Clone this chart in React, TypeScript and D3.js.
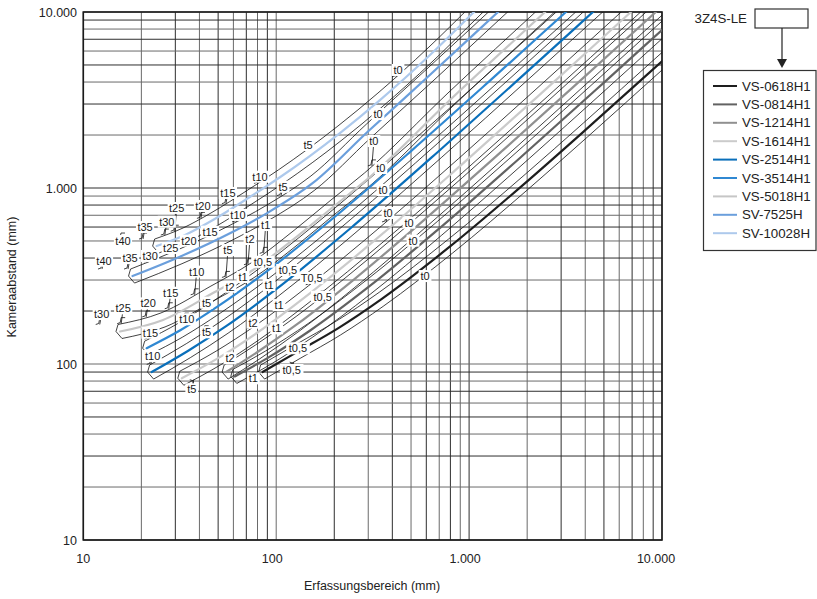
import React from "react";
import * as d3 from "d3";

const W = 817;
const H = 599;

const xTickValues = [10, 100, 1000, 10000];
const xTickLabels = ["10", "100", "1.000", "10.000"];
const yTickValues = [10, 100, 1000, 10000];
const yTickLabels = ["10", "100", "1.000", "10.000"];

const lensNames = ["VS-0618H1", "VS-0814H1", "VS-1214H1", "VS-1614H1", "VS-2514H1", "VS-3514H1", "VS-5018H1", "SV-7525H", "SV-10028H"];
const lensColors = ["#1e1e1e", "#626262", "#909090", "#cbcbcb", "#0a6fba", "#3088d2", "#c6c6c6", "#6b9fdc", "#adc9ec"];

// [Erfassungsbereich (mm), Kameraabstand (mm)]
const vs0618 = [[85, 90], [130, 118], [210, 160], [350, 233], [800, 467], [2000, 1091], [4000, 2131], [10000, 5251]];
const vs0814 = [[61, 85], [90, 108], [150, 155], [300, 273], [700, 588], [2000, 1611], [5000, 3972], [10000, 7907]];
const vs1214 = [[55, 90], [80, 117], [130, 170], [250, 299], [600, 675], [1500, 1640], [4000, 4323], [9290, 10000]];
const vs1614 = [[32.4, 83], [50, 108], [80, 151], [150, 253], [350, 541], [900, 1336], [2500, 3646], [6900, 10000]];
const vs2514 = [[22.6, 90], [35, 119], [55, 164], [100, 266], [250, 607], [700, 1629], [2000, 4583], [4385, 10000]];
const vs3514 = [[21.3, 123], [32, 156], [50, 213], [90, 338], [200, 682], [500, 1621], [1300, 4125], [3177, 10000]];
const vs5018 = [[15.5, 153], [25.9, 178], [47, 253], [75.8, 342], [128, 529], [197, 780], [294, 1111], [796, 3162], [2475, 10000]];
const sv7525 = [[18, 316], [31.7, 407], [57.6, 553], [89.3, 718], [155, 1068], [300, 2100], [600, 4200], [1412, 10000]];
const sv10028 = [[24, 468], [33.7, 541], [47, 658], [73, 889], [105, 1155], [214, 2053], [345, 3160], [627, 5700], [1060, 10000]];

// tube labels: [text, Erfassungsbereich, Kameraabstand]
const lab0618 = [["t0,5", 120.3, 92.5], ["t0", 591, 316]];
const lab0814 = [["t1", 76.1, 82.9], ["t0,5", 129.7, 122.8], ["t0", 512, 502]];
const lab1214 = [["t2", 57.6, 107.8], ["t1", 100.6, 159.5], ["t0,5", 174.2, 241], ["t0", 488, 635]];
const lab1614 = [["t5", 36.5, 71.8], ["t2", 75.8, 171.7], ["t1", 103.4, 216], ["T0,5", 152.8, 308], ["t0", 380, 721]];
const lab2514 = [["t10", 22.9, 111.1], ["t5", 43.6, 151.4], ["t1", 91.8, 281], ["t0,5", 115.1, 342], ["t0", 358, 974]];
const lab3514 = [["t15", 22.3, 150.6], ["t10", 34.4, 179.5], ["t5", 43.6, 223], ["t2", 57.6, 275], ["t1", 67.3, 312], ["t0,5", 85.4, 381], ["t0", 349, 1299]];
const lab5018 = [["t30", 12.46, 192], ["t25", 16.1, 207], ["t20", 21.7, 221], ["t15", 28.4, 254], ["t10", 38.7, 335], ["t5", 56.2, 444], ["t2", 73.1, 513], ["t1", 88.2, 616], ["t0", 321, 1849]];
const lab7525 = [["t40", 12.8, 386], ["t35", 17.47, 400], ["t30", 22.2, 411], ["t25", 28.4, 456], ["t20", 35.3, 502], ["t15", 45.4, 565], ["t10", 63.4, 703], ["t5", 108.5, 1017], ["t0", 337, 2633]];
const lab10028 = [["t40", 16.06, 500], ["t35", 20.9, 600], ["t30", 27.1, 643], ["t25", 30.5, 770], ["t20", 41.7, 790], ["t15", 56.2, 937], ["t10", 82.4, 1159], ["t5", 146.2, 1755], ["t0", 428, 4683]];

const curves = [vs0618, vs0814, vs1214, vs1614, vs2514, vs3514, vs5018, sv7525, sv10028];
const labels = [lab0618, lab0814, lab1214, lab1614, lab2514, lab3514, lab5018, lab7525, lab10028];

const x = d3.scaleLog().domain([10, 10000]).range([83.3, 662]);
const y = d3.scaleLog().domain([10, 10000]).range([540, 12]);

const FONT = "'Liberation Sans', Arial, sans-serif";
const NARROW = "'Liberation Sans Narrow', 'Arial Narrow', 'Liberation Sans', Arial, sans-serif";

function gridValues() {
  const v: number[] = [];
  [10, 100, 1000].forEach((d) => {
    for (let k = 1; k <= 9; k++) v.push(k * d);
  });
  v.push(10000);
  return v;
}

function curveInterp(pts: number[][]) {
  const s = d3
    .scaleLinear()
    .domain(pts.map((p) => Math.log10(p[0])))
    .range(pts.map((p) => Math.log10(p[1])))
    .clamp(true);
  return (f: number) => Math.pow(10, s(Math.log10(f)));
}

export default function App() {
  const gv = gridValues();
  const line = d3.line().curve(d3.curveMonotoneX);
  const OFF = 7;

  const lensEls = curves.map((pts, i) => {
    const px = pts.map((p) => [x(p[0]), y(p[1])] as [number, number]);
    const n = px.length;
    const a = px[n - 2];
    const b = px[n - 1];
    const dx = b[0] - a[0];
    const dy = b[1] - a[1];
    const L = Math.hypot(dx, dy);
    const ext = [...px, [b[0] + (dx / L) * 40, b[1] + (dy / L) * 40] as [number, number]];
    const d = line(ext) || "";
    const interp = curveInterp(pts);
    const start = px[0];
    const labs = labels[i].map((l, j) => {
      const [t, f, dist] = l as [string, number, number];
      const lx = x(f);
      const ly = y(dist);
      const cy = y(interp(f));
      const above = ly < cy;
      const tx = above ? lx - 2 : lx + 2;
      const ty = above ? cy - OFF : cy + OFF;
      const w = t.length * 5.4 + 2;
      const dl = Math.hypot(tx - lx, ty - ly);
      const notch = above
        ? `M${tx - 4},${ty} L${tx - 1},${ty - 1} L${tx},${ty - 6} L${tx + 4},${ty - 6}`
        : `M${tx - 4},${ty} L${tx - 1},${ty + 1} L${tx},${ty + 6} L${tx + 4},${ty + 6}`;
      return { t, lx, ly, tx, ty, w, dl, notch, key: `${i}-${j}` };
    });
    return { d, start, labs, color: lensColors[i], i };
  });

  return (
    <svg
      width={W}
      height={H}
      style={{ position: "absolute", left: 0, top: 0, background: "#fff" }}
      xmlns="http://www.w3.org/2000/svg"
    >
      <defs>
        <clipPath id="plot">
          <rect x={83.3} y={12} width={662 - 83.3} height={540 - 12} />
        </clipPath>
      </defs>
      <rect x={0} y={0} width={W} height={H} fill="#fff" />
      {/* grid */}
      <g strokeWidth={1}>
        {gv.map((v, i) => (
          <line key={"gx" + i} x1={x(v)} x2={x(v)} y1={12} y2={540} stroke={i % 2 ? "#6a6a6a" : "#2e2e2e"} />
        ))}
        {gv.map((v, i) => (
          <line key={"gy" + i} y1={y(v)} y2={y(v)} x1={83.3} x2={662} stroke={i % 2 ? "#6a6a6a" : "#2e2e2e"} />
        ))}
      </g>
      <rect x={83.3} y={12} width={662 - 83.3} height={540 - 12} fill="none" stroke="#1a1a1a" strokeWidth={1.6} />

      {/* thin tube boundary lines */}
      <g clipPath="url(#plot)" fill="none" stroke="#111" strokeWidth={0.8}>
        {lensEls.map((le) => (
          <g key={"thin" + le.i}>
            <path d={le.d} transform={`translate(-2,${-OFF})`} />
            <path d={le.d} transform={`translate(2,${OFF})`} />
            <path d={`M${le.start[0] - 2},${le.start[1] - OFF} L${le.start[0] - 4},${le.start[1]} L${le.start[0] + 2},${le.start[1] + OFF}`} />
            {le.labs.map((lb) => (
              <g key={"n" + lb.key}>
                <path d={lb.notch} />
                {lb.dl < 45 && lb.dl > 4 ? <line x1={lb.lx} y1={lb.ly} x2={lb.tx} y2={lb.ty} /> : null}
              </g>
            ))}
          </g>
        ))}
      </g>

      {/* lens curves */}
      <g clipPath="url(#plot)" fill="none">
        {lensEls.map((le) => (
          <path key={"c" + le.i} d={le.d} stroke={le.color} strokeWidth={2.2} strokeLinecap="round" />
        ))}
      </g>

      {/* tube labels */}
      <g fontFamily={NARROW} fontSize={11} fill="#1a1a1a">
        {lensEls.map((le) =>
          le.labs.map((lb) => (
            <g key={"l" + lb.key}>
              <rect x={lb.lx - lb.w / 2} y={lb.ly - 6} width={lb.w} height={12} fill="#fff" />
              <text x={lb.lx} y={lb.ly + 4} textAnchor="middle">
                {lb.t}
              </text>
            </g>
          ))
        )}
      </g>

      {/* axes tick labels */}
      <g fontFamily={FONT} fontSize={12.5} fill="#222">
        {xTickValues.map((v, i) => (
          <text key={"xt" + i} x={x(v) - (i === 3 ? 6 : i === 0 ? 0 : 4)} y={563} textAnchor="middle">
            {xTickLabels[i]}
          </text>
        ))}
        {yTickValues.map((v, i) => (
          <text key={"yt" + i} x={77} y={y(v) + 5} textAnchor="end">
            {yTickLabels[i]}
          </text>
        ))}
        <text x={372} y={590} textAnchor="middle" fontSize={12.5}>
          Erfassungsbereich (mm)
        </text>
        <text transform="translate(16,277) rotate(-90)" textAnchor="middle" fontSize={12.5}>
          Kameraabstand (mm)
        </text>
      </g>

      {/* legend */}
      <g fontFamily={FONT} fontSize={13.3} fill="#222">
        <text x={747} y={23} textAnchor="end">
          3Z4S-LE
        </text>
        <rect x={755} y={9} width={53} height={19} fill="#fff" stroke="#333" strokeWidth={1.2} />
        <line x1={782} y1={28} x2={782} y2={60} stroke="#222" strokeWidth={1.2} />
        <path d="M777,59 L787,59 L782,68 Z" fill="#222" />
        <rect x={703.5} y={70.5} width={112.5} height={180} fill="#fff" stroke="#333" strokeWidth={1.2} />
        {lensNames.map((nm, i) => (
          <g key={"lg" + i}>
            <line x1={713} x2={737} y1={86 + i * 18.4} y2={86 + i * 18.4} stroke={lensColors[i]} strokeWidth={2} />
            <text x={742} y={90.5 + i * 18.4}>
              {nm}
            </text>
          </g>
        ))}
      </g>
    </svg>
  );
}
